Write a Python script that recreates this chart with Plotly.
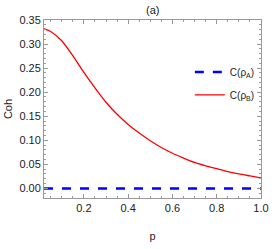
import plotly.graph_objects as go

p = [0.02, 0.05, 0.1, 0.15, 0.2, 0.25, 0.3, 0.35, 0.4, 0.45, 0.5, 0.55, 0.6, 0.65, 0.7, 0.75, 0.8, 0.85, 0.9, 0.95, 1.0]
coh_B = [0.332, 0.326, 0.307, 0.276, 0.241, 0.209, 0.179, 0.154, 0.133, 0.115, 0.099, 0.085, 0.073, 0.063, 0.054, 0.047, 0.041, 0.035, 0.030, 0.026, 0.022]
coh_A = [0.0] * len(p)

x_ticks = [0.2, 0.4, 0.6, 0.8, 1.0]
x_tick_labels = ["0.2", "0.4", "0.6", "0.8", "1.0"]
y_ticks = [0.0, 0.05, 0.10, 0.15, 0.20, 0.25, 0.30, 0.35]
y_tick_labels = ["0.00", "0.05", "0.10", "0.15", "0.20", "0.25", "0.30", "0.35"]

FONT = "Liberation Sans, Arial"

fig = go.Figure()
fig.add_trace(go.Scatter(x=p, y=coh_A, mode="lines", name="C(ρ<sub>A</sub>)", legendgroup="a",
                         line=dict(color="#0000ff", width=2.5, dash="dash")))
fig.add_trace(go.Scatter(x=p, y=coh_B, mode="lines", name="C(ρ<sub>B</sub>)", legendgroup="b",
                         line_shape="spline", line_smoothing=0.6,
                         line=dict(color="#ff0000", width=1.3)))

axis_common = dict(showline=True, linecolor="#999999", linewidth=1, mirror="allticks",
                   ticks="inside", ticklen=4, tickcolor="#999999", showgrid=False, zeroline=False,
                   tickfont=dict(family=FONT, size=11, color="#222222"))

fig.update_xaxes(range=[0.02, 1.0], tickvals=x_ticks, ticktext=x_tick_labels, ticklabeloverflow="allow",
                 minor=dict(ticks="inside", ticklen=2, tickcolor="#999999", dtick=0.05, showgrid=False),
                 title=dict(text="p", font=dict(family=FONT, size=11, color="#222222"), standoff=19),
                 **axis_common)
fig.update_yaxes(range=[-0.02, 0.35], tickvals=y_ticks, ticktext=y_tick_labels,
                 minor=dict(ticks="inside", ticklen=2, tickcolor="#999999", dtick=0.01, showgrid=False),
                 title=dict(text="Coh", font=dict(family=FONT, size=11, color="#222222"), standoff=4),
                 **axis_common)

fig.add_annotation(text="(a)", x=0.5, y=1.0, xref="paper", yref="paper", yanchor="bottom", yshift=2,
                   showarrow=False, font=dict(family=FONT, size=11, color="#222222"))

fig.update_layout(width=277, height=249, margin=dict(l=39, r=8, t=20, b=43),
                  plot_bgcolor="white", paper_bgcolor="white",
                  legend=dict(x=0.672, y=0.79, xanchor="left", yanchor="top", bgcolor="rgba(0,0,0,0)",
                              font=dict(family=FONT, size=10, color="#222222"),
                              itemwidth=30, tracegroupgap=4))
fig.write_html("out.html", config={"displayModeBar": False},
               post_script="document.body.style.margin='0';")
